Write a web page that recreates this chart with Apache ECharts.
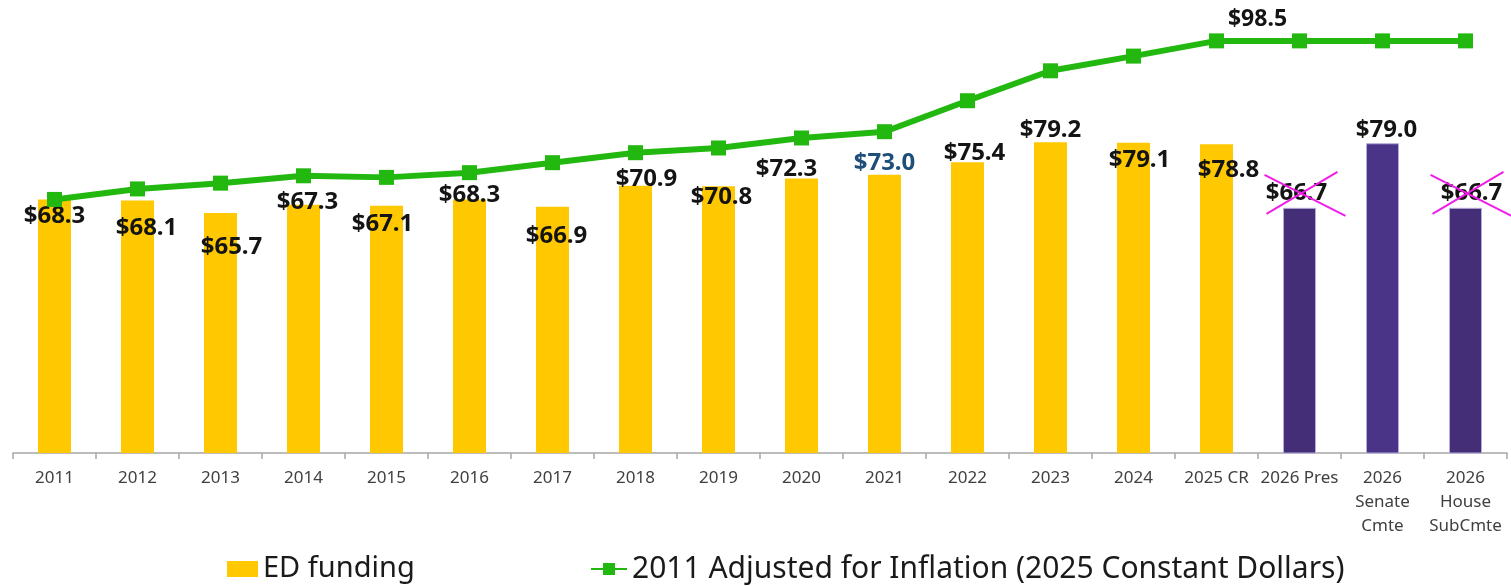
<!DOCTYPE html>
<html>
<head>
<meta charset="utf-8">
<title>ED funding</title>
<script src="https://cdn.jsdelivr.net/npm/echarts@6/dist/echarts.min.js"></script>
<style>
  html, body { margin: 0; padding: 0; background: #fff; }
  #chart { width: 1511px; height: 586px; }
</style>
</head>
<body>
<div id="chart"></div>
<script>
// Fiscal years / budget proposals on the category axis
const categories = ['2011', '2012', '2013', '2014', '2015', '2016', '2017', '2018', '2019',
  '2020', '2021', '2022', '2023', '2024', '2025 CR', '2026 Pres',
  '2026\nSenate\nCmte', '2026\nHouse\nSubCmte'];

// Department of Education funding, billions of dollars
const edFunding = [68.3, 68.1, 65.7, 67.3, 67.1, 68.3, 66.9, 70.9, 70.8,
  72.3, 73.0, 75.4, 79.2, 79.1, 78.8, 66.7, 79.0, 66.7];

// 2011 level carried forward for inflation, in 2025 constant dollars
const adjusted2011 = [68.3, 70.3, 71.4, 72.8, 72.5, 73.4, 75.3, 77.2, 78.1,
  80.0, 81.2, 87.1, 92.8, 95.6, 98.5, 98.5, 98.5, 98.5];

// Proposals whose value label is struck through
const struckProposals = ['2026 Pres', '2026\nHouse\nSubCmte'];

// ---- styling ----
const YELLOW = '#FFC800';
const PURPLE = '#432E77';
const PURPLE_LIGHT = '#4A3488';
const GREEN = '#22B80F';

// hand-placed value labels: [dx, dy] of label centre from the bar top
const labelNudge = [[0, 17], [9, 28], [11, 34], [4, -3], [-4, 18], [0, -4], [4, 29], [11, -7], [3, 11],
  [-15, -9], [0, -12], [7, -9], [0, -12], [6, 17], [12, 26], [-3, -15], [4, -13], [6, -15]];

const LABEL_LH = 28;

const barData = edFunding.map(function (v, i) {
  const isProposal = i >= 15;
  let color = YELLOW;
  if (isProposal) color = (i === 16) ? PURPLE_LIGHT : PURPLE;
  return {
    value: v,
    itemStyle: {
      color: color,
      borderColor: isProposal ? '#B3ABDB' : color,
      borderWidth: isProposal ? 1 : 0
    },
    label: {
      offset: [labelNudge[i][0], labelNudge[i][1] + LABEL_LH / 2],
      color: i === 10 ? '#1F4E79' : '#141414'
    }
  };
});

const lineData = adjusted2011.map(function (v, i) {
  if (i === 14) {
    return {
      value: v,
      label: {
        show: true,
        position: 'top',
        distance: 0,
        offset: [41, -2],
        formatter: function (p) { return '$' + p.value.toFixed(1); },
        fontFamily: 'Noto Sans',
        fontSize: 23,
        fontWeight: 'bold',
        color: '#141414'
      }
    };
  }
  return v;
});

const chart = echarts.init(document.getElementById('chart'), null, { renderer: 'canvas' });

const option = {
  backgroundColor: '#ffffff',
  animation: false,
  grid: { left: 13, right: 4, top: 33, bottom: 133, containLabel: false },
  xAxis: {
    type: 'category',
    data: categories,
    boundaryGap: true,
    axisLine: { show: true, lineStyle: { color: '#A6A6A6', width: 1.5 } },
    axisTick: { show: true, length: 6, lineStyle: { color: '#A6A6A6', width: 1.5 } },
    axisLabel: {
      interval: 0,
      margin: 13,
      fontFamily: 'Noto Sans',
      fontSize: 17,
      lineHeight: 24,
      color: '#404040'
    }
  },
  yAxis: {
    type: 'value',
    min: 20,
    max: 100,
    show: false,
    splitLine: { show: false }
  },
  legend: [
    {
      data: ['ED funding'],
      left: 227,
      top: 553,
      padding: 0,
      itemWidth: 31,
      itemHeight: 16,
      itemGap: 0,
      icon: 'rect',
      textStyle: { fontFamily: 'Noto Sans', fontSize: 29, color: '#1a1a1a', lineHeight: 32 }
    },
    {
      data: ['2011 Adjusted for Inflation (2025 Constant Dollars)'],
      left: 590,
      top: 553,
      padding: 0,
      itemWidth: 36,
      itemHeight: 15,
      itemGap: 0,
      textStyle: { fontFamily: 'Noto Sans', fontSize: 30, color: '#1a1a1a', lineHeight: 32 }
    }
  ],
  series: [
    {
      name: 'ED funding',
      type: 'bar',
      data: barData,
      barWidth: 33,
      itemStyle: { color: YELLOW },
      label: {
        show: true,
        position: 'top',
        distance: 0,
        fontFamily: 'Noto Sans',
        fontSize: 24,
        fontWeight: 'bold',
        lineHeight: LABEL_LH,
        formatter: function (p) { return '$' + p.value.toFixed(1); }
      },
      z: 2
    },
    {
      name: '2011 Adjusted for Inflation (2025 Constant Dollars)',
      type: 'line',
      data: lineData,
      symbol: 'rect',
      symbolSize: 15,
      lineStyle: { color: GREEN, width: 6 },
      itemStyle: { color: GREEN },
      label: { show: false },
      z: 3
    }
  ]
};

chart.setOption(option);

// magenta cross over withdrawn proposal labels, anchored to the bar tops
const crossShapes = [];
struckProposals.forEach(function (name) {
  const i = categories.indexOf(name);
  const p = chart.convertToPixel({ xAxisIndex: 0, yAxisIndex: 0 }, [i, edFunding[i]]);
  const style = { stroke: '#F01EE6', lineWidth: 2 };
  crossShapes.push({
    type: 'line', z: 100,
    shape: { x1: p[0] - 35, y1: p[1] - 33, x2: p[0] + 46, y2: p[1] + 8 },
    style: style
  });
  crossShapes.push({
    type: 'line', z: 100,
    shape: { x1: p[0] - 33, y1: p[1] + 6, x2: p[0] + 38, y2: p[1] - 36 },
    style: style
  });
});
chart.setOption({ graphic: crossShapes });
</script>
</body>
</html>
